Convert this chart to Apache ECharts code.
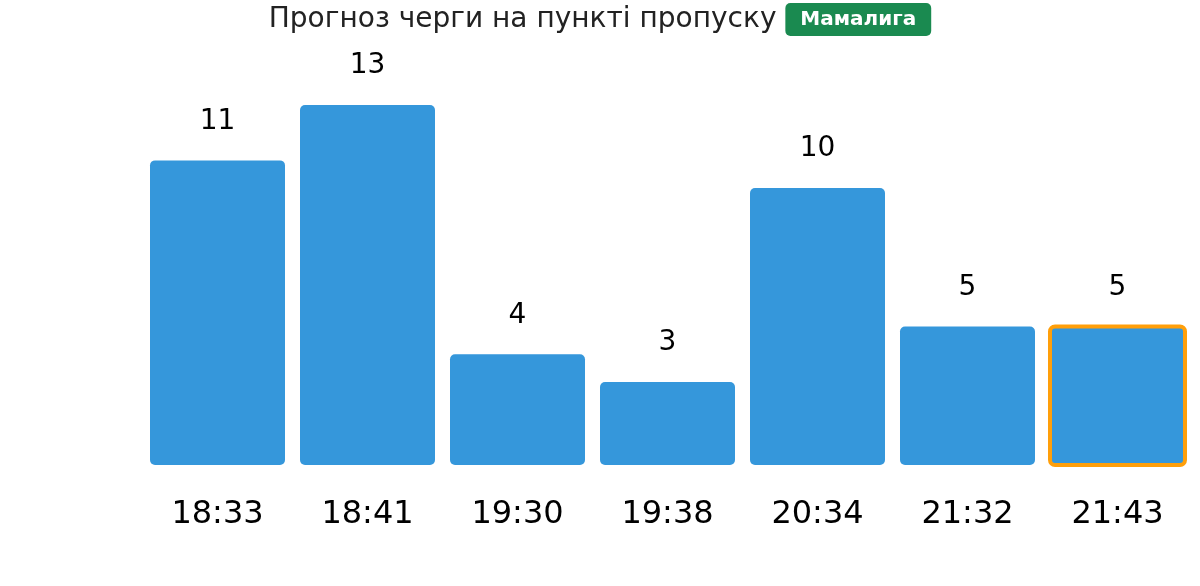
<!DOCTYPE html>
<html><head><meta charset="utf-8">
<script src="https://cdn.jsdelivr.net/npm/echarts@6/dist/echarts.min.js"></script>
<style>html,body{margin:0;padding:0;background:#fff}#c{width:1200px;height:586px}</style>
</head><body><div id="c"></div>
<script>
const titleText = 'Прогноз черги на пункті пропуску';
const badgeText = 'Мамалига';
const categories = ['18:33', '18:41', '19:30', '19:38', '20:34', '21:32', '21:43'];
const values = [11, 13, 4, 3, 10, 5, 5];
const highlightIndex = 6;

const chart = echarts.init(document.getElementById('c'), null, {renderer: 'canvas'});
chart.setOption({
  animation: false,
  backgroundColor: '#fff',
  title: {
    text: titleText + ' {b|' + badgeText + '}',
    left: 'center',
    top: -2,
    textStyle: {
      fontFamily: 'DejaVu Sans',
      fontSize: 28,
      fontWeight: 'normal',
      color: '#222',
      rich: {
        b: {
          fontFamily: 'DejaVu Sans',
          fontSize: 20,
          fontWeight: 'bold',
          color: '#fff',
          backgroundColor: '#1a8a50',
          borderRadius: 5,
          padding: [7, 15, 6, 15]
        }
      }
    }
  },
  grid: {left: 142.5, right: 7.5, top: 105, bottom: 121, containLabel: false},
  xAxis: {
    type: 'category',
    data: categories,
    axisLine: {show: false},
    axisTick: {show: false},
    axisLabel: {fontFamily: 'DejaVu Sans', fontSize: 32, color: '#000', margin: 34}
  },
  yAxis: {type: 'value', min: 0, max: 13, show: false, splitLine: {show: false}},
  series: [{
    type: 'bar',
    barCategoryGap: '10%',
    data: values,
    itemStyle: {color: '#3597db', borderRadius: 5},
    label: {
      show: true,
      position: 'top',
      distance: 25,
      fontFamily: 'DejaVu Sans',
      fontSize: 28,
      color: '#000'
    }
  }]
});

// Highlight outline around the selected bar, using the bar layout computed by ECharts
const layout = chart.getModel().getSeriesByIndex(0).getData().getItemLayout(highlightIndex);
if (layout) {
  const x = Math.min(layout.x, layout.x + layout.width);
  const y = Math.min(layout.y, layout.y + layout.height);
  chart.setOption({
    graphic: [{
      type: 'rect',
      z: 100,
      shape: {x: x, y: y, width: Math.abs(layout.width), height: Math.abs(layout.height), r: 5},
      style: {fill: 'none', stroke: '#ff9f0a', lineWidth: 4}
    }]
  });
}
</script></body></html>
